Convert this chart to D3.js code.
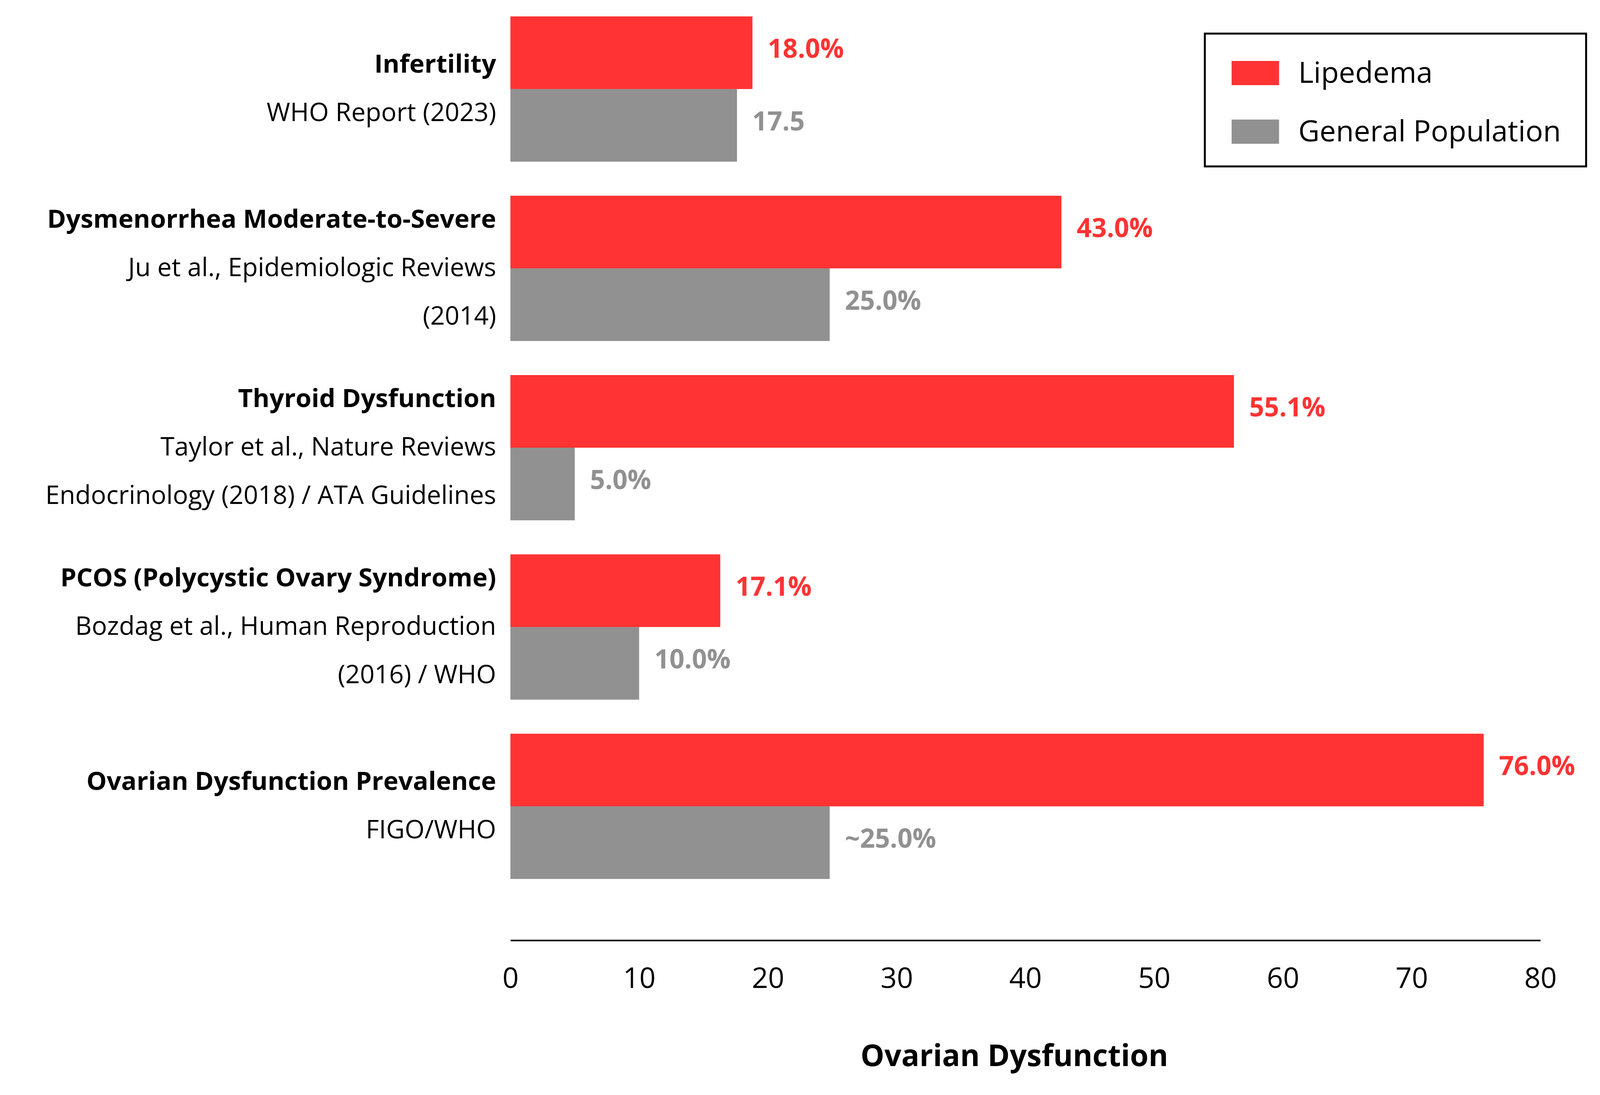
<!DOCTYPE html>
<html>
<head>
<meta charset="utf-8">
<script src="https://cdn.jsdelivr.net/npm/d3@7"></script>
<style>
  html, body { margin: 0; padding: 0; width: 100%; height: 100%; overflow: hidden; background: #fff; }
  svg { display: block; }
  text { font-family: "Open Sans", "Noto Sans", sans-serif; }
</style>
</head>
<body>
<script>
// layout is drawn on a 4721 x 2803 design grid and stretched to the window
let width = window.innerWidth || 4721;
let height = window.innerHeight || 2803;
let sx = width / 4721;
let sy = height / 2803;
let fs = (sx + sy) / 2;

// categories, each with its label lines (first line bold)
const categories = ["Infertility", "Dysmenorrhea", "Thyroid", "PCOS", "Ovarian"];
const categoryLines = [
  ["Infertility", "WHO Report (2023)"],
  ["Dysmenorrhea Moderate-to-Severe", "Ju et al., Epidemiologic Reviews", "(2014)"],
  ["Thyroid Dysfunction", "Taylor et al., Nature Reviews", "Endocrinology (2018) / ATA Guidelines"],
  ["PCOS (Polycystic Ovary Syndrome)", "Bozdag et al., Human Reproduction", "(2016) / WHO"],
  ["Ovarian Dysfunction Prevalence", "FIGO/WHO"]
];
const seriesNames = ["Lipedema", "General Population"];
const lipedema = [18.8, 42.8, 56.2, 16.3, 75.6];
const general = [17.6, 24.8, 5.0, 10.0, 24.8];
const lipedemaLabels = ["18.0%", "43.0%", "55.1%", "17.1%", "76.0%"];
const generalLabels = ["17.5", "25.0%", "5.0%", "10.0%", "~25.0%"];
const ticks = [0, 10, 20, 30, 40, 50, 60, 70, 80];
const colors = ["#ff3333", "#919191"];

let svg = d3.select('body')
  .append('svg')
  .attr('width', width)
  .attr('height', height)
  .style('background', '#fff');

let x = d3.scaleLinear().domain([0, 80]).range([1506 * sx, 4545 * sx]);
let y = d3.scaleBand().domain(categories).range([42 * sy, 2250 * sy]).paddingInner(0.19);
let ySub = d3.scaleBand().domain(seriesNames).range([0, y.bandwidth()]);

let rows = categories.map(function (c, i) {
  return {
    cat: c,
    lines: categoryLines[i],
    values: [
      { s: seriesNames[0], v: lipedema[i], label: lipedemaLabels[i], color: colors[0] },
      { s: seriesNames[1], v: general[i], label: generalLabels[i], color: colors[1] }
    ]
  };
});

let groups = svg.append("g")
  .selectAll("g")
  .data(rows)
  .enter().append("g")
  .attr("transform", function (d) { return "translate(0," + y(d.cat) + ")"; });

groups.selectAll("rect")
  .data(function (d) { return d.values; })
  .enter().append("rect")
  .attr("x", x(0))
  .attr("y", function (d) { return ySub(d.s); })
  .attr("width", function (d) { return x(d.v) - x(0); })
  .attr("height", ySub.bandwidth())
  .style("fill", function (d) { return d.color; });

groups.selectAll(".val")
  .data(function (d) { return d.values; })
  .enter().append("text")
  .attr("class", "val")
  .attr("x", function (d) { return x(d.v) + 45 * sx; })
  .attr("y", function (d) { return ySub(d.s) + ySub.bandwidth() / 2 + 13 * sy; })
  .style("font-size", (72 * fs) + "px")
  .style("font-weight", "bold")
  .style("fill", function (d) { return d.color; })
  .text(function (d) { return d.label; });

// category labels, right aligned left of the bars
groups.append("text")
  .attr("text-anchor", "end")
  .style("font-size", (70 * fs) + "px")
  .style("fill", "#000")
  .selectAll("tspan")
  .data(function (d) { return d.lines.map(function (t, i) { return { t: t, i: i, n: d.lines.length }; }); })
  .enter().append("tspan")
  .attr("x", 1464 * sx)
  .attr("y", function (d) { return y.bandwidth() / 2 + (20 + (d.i - (d.n - 1) / 2) * 124) * sy; })
  .style("font-weight", function (d) { return d.i === 0 ? "bold" : "normal"; })
  .text(function (d) { return d.t; });

// x axis
let axis = svg.append("g")
  .attr("transform", "translate(0," + (2407 * sy) + ")")
  .call(d3.axisBottom(x).tickValues(ticks).tickSize(0).tickPadding(70 * sy));
axis.select(".domain").attr("stroke", "#000").attr("stroke-width", 4);
axis.selectAll("text")
  .style("font-size", (78 * fs) + "px")
  .style("font-family", '"Open Sans", sans-serif')
  .style("fill", "#000");

svg.append("text")
  .attr("x", 2993 * sx)
  .attr("y", 2729 * sy)
  .attr("text-anchor", "middle")
  .style("font-size", (82 * fs) + "px")
  .style("font-weight", "bold")
  .text("Ovarian Dysfunction");

// legend
let legend = svg.append("g").attr("transform", "translate(" + (3555 * sx) + "," + (86 * sy) + ")");
legend.append("rect")
  .attr("width", 1125 * sx)
  .attr("height", 340 * sy)
  .style("fill", "#fff")
  .style("stroke", "#000")
  .style("stroke-width", 5);
let items = legend.selectAll(".item")
  .data(seriesNames)
  .enter().append("g")
  .attr("class", "item")
  .attr("transform", function (d, i) { return "translate(" + (79 * sx) + "," + ((70 + i * 150) * sy) + ")"; });
items.append("rect")
  .attr("width", 140 * sx)
  .attr("height", 62 * sy)
  .style("fill", function (d, i) { return colors[i]; });
items.append("text")
  .attr("x", 197 * sx)
  .attr("y", 56 * sy)
  .style("font-size", (80 * fs) + "px")
  .style("fill", "#000")
  .text(function (d) { return d; });
</script>
</body>
</html>
